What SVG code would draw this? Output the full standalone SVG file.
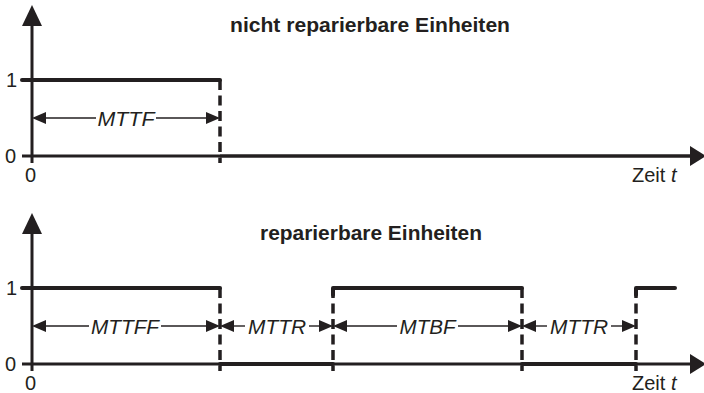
<svg xmlns="http://www.w3.org/2000/svg" width="704" height="393" viewBox="0 0 704 393">
  <defs>
    <style>
      .axis { stroke: #231f20; stroke-width: 3; fill: none; }
      .state { stroke: #231f20; stroke-width: 4; fill: none; stroke-linecap: round; stroke-linejoin: round; }
      .dash { stroke: #231f20; stroke-width: 3.5; fill: none; stroke-dasharray: 10 5.5; }
      .dim { stroke: #231f20; stroke-width: 1.4; fill: none; }
      .head { fill: #231f20; }
      .lbl { font-family: "Liberation Sans", Arial, sans-serif; font-size: 20px; fill: #231f20; }
      .it { font-style: italic; }
      .title { font-family: "Liberation Sans", Arial, sans-serif; font-size: 20.5px; font-weight: bold; fill: #231f20; }
    </style>
    <!-- filled arrowhead pointing right, tip at origin -->
    <path id="ah" d="M0,0 L-14,-6 L-14,6 Z"/>
  </defs>

  <!-- ===== Upper chart: non-repairable units ===== -->
  <g id="chart-top">
    <g id="axes-top">
      <line class="axis" x1="32" y1="163" x2="32" y2="22"/>
      <path class="head" d="M32,5 L22,26 L42,26 Z"/>
      <line class="axis" x1="22" y1="156" x2="692" y2="156"/>
      <path class="head" d="M706,156 L690,146 L690,166 Z"/>
    </g>
    <g id="labels-top">
      <text class="lbl" x="6" y="87">1</text>
      <text class="lbl" x="5" y="163">0</text>
      <text class="lbl" x="25" y="182">0</text>
      <text class="lbl" x="632" y="182">Zeit <tspan class="it">t</tspan></text>
      <text class="title" x="230" y="32" textLength="280" lengthAdjust="spacingAndGlyphs">nicht reparierbare Einheiten</text>
    </g>
    <g id="state-top">
      <polyline class="state" points="22,80 220,80"/>
      <line class="dash" x1="220" y1="80" x2="220" y2="163"/>
      <line class="axis" x1="220" y1="156" x2="690" y2="156"/>
    </g>
  </g>

  <!-- ===== Lower chart: repairable units ===== -->
  <g id="chart-bottom">
    <g id="axes-bottom">
      <line class="axis" x1="32" y1="371" x2="32" y2="230"/>
      <path class="head" d="M32,213 L22,234 L42,234 Z"/>
      <line class="axis" x1="22" y1="364" x2="692" y2="364"/>
      <path class="head" d="M706,364 L690,354 L690,374 Z"/>
    </g>
    <g id="labels-bottom">
      <text class="lbl" x="6" y="295">1</text>
      <text class="lbl" x="5" y="371">0</text>
      <text class="lbl" x="25" y="390">0</text>
      <text class="lbl" x="632" y="390">Zeit <tspan class="it">t</tspan></text>
      <text class="title" x="260" y="240" textLength="222" lengthAdjust="spacingAndGlyphs">reparierbare Einheiten</text>
    </g>
    <g id="state-bottom">
      <polyline class="state" points="22,288 220,288"/>
      <polyline class="state" points="333,295 333,288 522,288"/>
      <polyline class="state" points="636,295 636,288 675,288"/>
      <line class="dash" x1="220" y1="288" x2="220" y2="371"/>
      <line class="dash" x1="333" y1="288" x2="333" y2="371"/>
      <line class="dash" x1="522" y1="288" x2="522" y2="371"/>
      <line class="dash" x1="636" y1="288" x2="636" y2="371"/>
      <line class="state" x1="220" y1="364" x2="333" y2="364" stroke-width="3.5"/>
      <line class="state" x1="522" y1="364" x2="636" y2="364" stroke-width="3.5"/>
    </g>
  </g>

  <!-- ===== Time-span dimension arrows ===== -->
  <g id="connectors">
    <!-- MTTF -->
    <g id="dim-mttf">
      <line class="dim" x1="40" y1="118" x2="96" y2="118"/>
      <line class="dim" x1="156" y1="118" x2="212" y2="118"/>
      <use href="#ah" class="head" transform="translate(32,118) rotate(180)"/>
      <use href="#ah" class="head" transform="translate(220,118)"/>
      <text class="lbl it" x="126" y="126" text-anchor="middle" textLength="57" lengthAdjust="spacingAndGlyphs">MTTF</text>
    </g>
    <!-- MTTFF -->
    <g id="dim-mttff">
      <line class="dim" x1="40" y1="326" x2="89" y2="326"/>
      <line class="dim" x1="161" y1="326" x2="212" y2="326"/>
      <use href="#ah" class="head" transform="translate(32,326) rotate(180)"/>
      <use href="#ah" class="head" transform="translate(220,326)"/>
      <text class="lbl it" x="125" y="334" text-anchor="middle" textLength="68" lengthAdjust="spacingAndGlyphs">MTTFF</text>
    </g>
    <!-- MTTR (1) -->
    <g id="dim-mttr1">
      <line class="dim" x1="228" y1="326" x2="245" y2="326"/>
      <line class="dim" x1="309" y1="326" x2="325" y2="326"/>
      <use href="#ah" class="head" transform="translate(220,326) rotate(180)"/>
      <use href="#ah" class="head" transform="translate(333,326)"/>
      <text class="lbl it" x="277" y="334" text-anchor="middle" textLength="58" lengthAdjust="spacingAndGlyphs">MTTR</text>
    </g>
    <!-- MTBF -->
    <g id="dim-mtbf">
      <line class="dim" x1="341" y1="326" x2="397" y2="326"/>
      <line class="dim" x1="458" y1="326" x2="514" y2="326"/>
      <use href="#ah" class="head" transform="translate(333,326) rotate(180)"/>
      <use href="#ah" class="head" transform="translate(522,326)"/>
      <text class="lbl it" x="427.5" y="334" text-anchor="middle" textLength="56" lengthAdjust="spacingAndGlyphs">MTBF</text>
    </g>
    <!-- MTTR (2) -->
    <g id="dim-mttr2">
      <line class="dim" x1="530" y1="326" x2="547" y2="326"/>
      <line class="dim" x1="611" y1="326" x2="628" y2="326"/>
      <use href="#ah" class="head" transform="translate(522,326) rotate(180)"/>
      <use href="#ah" class="head" transform="translate(636,326)"/>
      <text class="lbl it" x="579" y="334" text-anchor="middle" textLength="58" lengthAdjust="spacingAndGlyphs">MTTR</text>
    </g>
  </g>
</svg>
